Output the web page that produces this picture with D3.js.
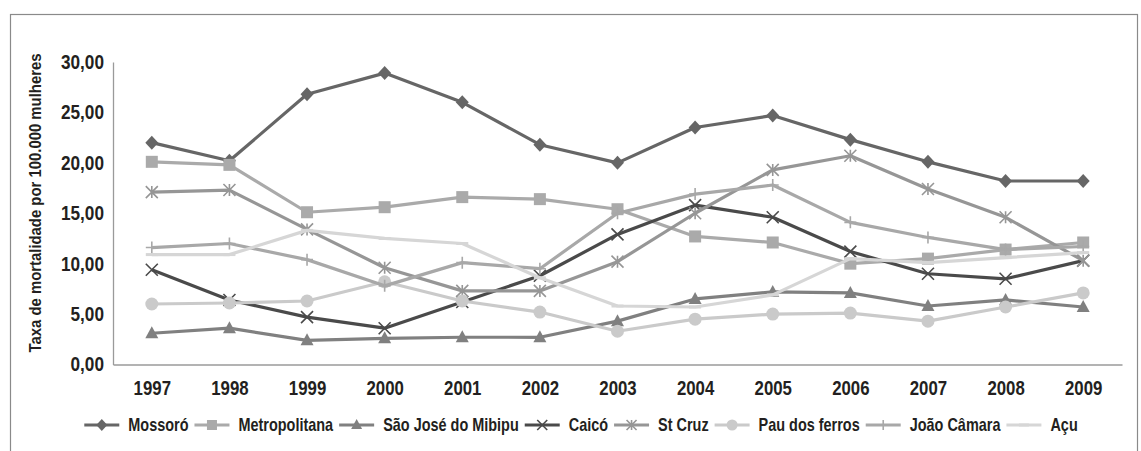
<!DOCTYPE html>
<html><head><meta charset="utf-8">
<script src="https://cdn.jsdelivr.net/npm/d3@7"></script>
<style>
html,body{margin:0;padding:0;background:#fff;}
svg{display:block;}
text{font-family:'Liberation Sans','Arimo',Arial,sans-serif;font-weight:bold;fill:#231f20;}
</style></head>
<body>
<svg id="chart" width="1141" height="451"></svg>
<script>
const years = ["1997","1998","1999","2000","2001","2002","2003","2004","2005","2006","2007","2008","2009"];
const yTicks = [0,5,10,15,20,25,30];
const mossoro      = [22.0,20.2,26.8,28.9,26.0,21.8,20.0,23.5,24.7,22.3,20.1,18.2,18.2];
const metropolitana= [20.1,19.8,15.1,15.6,16.6,16.4,15.4,12.7,12.1,10.0,10.5,11.4,12.1];
const saoJose      = [3.1,3.6,2.4,2.6,2.7,2.7,4.3,6.5,7.2,7.1,5.8,6.4,5.7];
const caico        = [9.4,6.4,4.7,3.6,6.2,8.8,12.9,15.8,14.6,11.2,9.0,8.5,10.3];
const stCruz       = [17.1,17.3,13.4,9.6,7.3,7.3,10.2,15.0,19.3,20.7,17.4,14.6,10.3];
const pauFerros    = [6.0,6.1,6.3,8.2,6.3,5.2,3.3,4.5,5.0,5.1,4.3,5.7,7.1];
const joaoCamara   = [11.6,12.0,10.4,7.8,10.1,9.5,15.0,16.9,17.8,14.1,12.6,11.4,11.7];
const acu          = [10.9,10.9,13.3,12.5,12.0,8.6,5.8,5.7,6.9,10.5,10.1,10.6,11.1];
const seriesNames  = ["Mossoró","Metropolitana","São José do Mibipu","Caicó","St Cruz","Pau dos ferros","João Câmara","Açu"];
const seriesValues = [mossoro,metropolitana,saoJose,caico,stCruz,pauFerros,joaoCamara,acu];
const colors  = ["#666666","#aaaaaa","#808080","#4a4a4a","#969696","#cacaca","#a8a8a8","#d6d6d6"];
const markers = ["diamond","square","triangle","x","star","circle","plus","dash"];

function condense(sel, f){
  sel.each(function(){
    const n = this;
    const w = n.getComputedTextLength();
    n.setAttribute("textLength", (w*f).toFixed(2));
    n.setAttribute("lengthAdjust","spacingAndGlyphs");
  });
}

const svg = d3.select("#chart");
// outer frame
svg.append("rect").attr("x",10.5).attr("y",14.5).attr("width",1127).attr("height",460)
  .attr("fill","none").attr("stroke","#8a8a8a").attr("stroke-width",1.2);

const x = d3.scalePoint().domain(years).range([113,1122]).padding(0.5);
const y = d3.scaleLinear().domain([0,30]).range([364.5,62]);

// axes
const gy = svg.append("g").attr("transform","translate(113,0)")
  .call(d3.axisLeft(y).tickValues(yTicks).tickSize(0).tickPadding(9)
        .tickFormat(d=>d3.format(".2f")(d).replace(".",",")));
gy.select(".domain").attr("stroke","#9a9a9a").attr("stroke-width",1.3);
gy.selectAll("text").attr("font-size",20).style("font-family","inherit");
condense(gy.selectAll("text"), 0.86);

const gx = svg.append("g").attr("transform","translate(0,364.5)")
  .call(d3.axisBottom(x).tickSize(0).tickPadding(16));
gx.select(".domain").attr("stroke","#9a9a9a").attr("stroke-width",1.3);
gx.selectAll("text").attr("font-size",21).style("font-family","inherit");
condense(gx.selectAll("text"), 0.8);

const title = svg.append("text").attr("transform","translate(41,203) rotate(-90)")
  .attr("text-anchor","middle").attr("font-size",16)
  .attr("textLength",299).attr("lengthAdjust","spacingAndGlyphs")
  .text("Taxa de mortalidade por 100.000 mulheres");

function drawMarker(g, type, color, cx, cy, s){
  const r = s/2;
  if(type==="diamond"){
    g.append("path").attr("d",`M${cx},${cy-r-1}L${cx+r+0.5},${cy}L${cx},${cy+r+1}L${cx-r-0.5},${cy}Z`).attr("fill",color);
  } else if(type==="square"){
    g.append("rect").attr("x",cx-r).attr("y",cy-r).attr("width",s).attr("height",s).attr("fill",color);
  } else if(type==="triangle"){
    g.append("path").attr("d",`M${cx},${cy-r-1}L${cx+r+0.5},${cy+r-1}L${cx-r-0.5},${cy+r-1}Z`).attr("fill",color);
  } else if(type==="circle"){
    g.append("circle").attr("cx",cx).attr("cy",cy).attr("r",r+0.5).attr("fill",color);
  } else if(type==="x"){
    g.append("path").attr("d",`M${cx-r},${cy-r}L${cx+r},${cy+r}M${cx-r},${cy+r}L${cx+r},${cy-r}`)
      .attr("stroke",color).attr("stroke-width",1.6).attr("fill","none");
  } else if(type==="star"){
    g.append("path").attr("d",`M${cx-r},${cy-r}L${cx+r},${cy+r}M${cx-r},${cy+r}L${cx+r},${cy-r}M${cx},${cy-r}L${cx},${cy+r}`)
      .attr("stroke",color).attr("stroke-width",1.6).attr("fill","none");
  } else if(type==="plus"){
    g.append("path").attr("d",`M${cx-r},${cy}L${cx+r},${cy}M${cx},${cy-r}L${cx},${cy+r}`)
      .attr("stroke",color).attr("stroke-width",1.6).attr("fill","none");
  } else if(type==="dash"){
    g.append("path").attr("d",`M${cx-r},${cy}L${cx+r},${cy}`)
      .attr("stroke",color).attr("stroke-width",3).attr("fill","none");
  }
}

const line = d3.line().x((d,i)=>x(years[i])).y(d=>y(d));
seriesValues.forEach((vals,si)=>{
  const g = svg.append("g");
  g.append("path").datum(vals).attr("d",line).attr("fill","none")
    .attr("stroke",colors[si]).attr("stroke-width",3.2).attr("stroke-linejoin","round");
  vals.forEach((v,i)=>drawMarker(g, markers[si], colors[si], x(years[i]), y(v), 12));
});

// legend
const lg = svg.append("g");
let cx0 = 0;
seriesNames.forEach((name,si)=>{
  const it = lg.append("g").attr("transform",`translate(${cx0},0)`);
  it.append("path").attr("d","M0,0L35,0").attr("stroke",colors[si]).attr("stroke-width",3.2);
  drawMarker(it, markers[si], colors[si], 17.5, 0, 10);
  const t = it.append("text").attr("x",44).attr("y",6).attr("font-size",19).text(name);
  condense(t, 0.76);
  const w = +t.attr("textLength");
  cx0 += 44 + w + 6;
});
const total = cx0 - 6;
lg.attr("transform",`translate(${581 - total/2},425)`);
</script>
</body></html>
